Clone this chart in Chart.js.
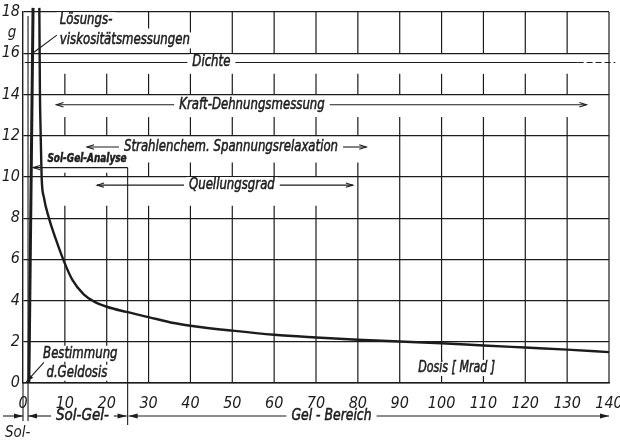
<!DOCTYPE html>
<html>
<head>
<meta charset="utf-8">
<script src="https://cdn.jsdelivr.net/npm/chart.js@4.4.1/dist/chart.umd.min.js"></script>
<style>
  html, body { margin: 0; background: #fff; }
  #wrap { width: 620px; height: 440px; }
</style>
</head>
<body>
<div id="wrap"><canvas id="doseChart"></canvas></div>
<script>
// axis ticks
const doseTicks = [0, 10, 20, 30, 40, 50, 60, 70, 80, 90, 100, 110, 120, 130, 140];
const gTicks = [0, 2, 4, 6, 8, 10, 12, 14, 16, 18];

// main curve
const curveDose  = [3.9, 4.05, 4.2, 4.45, 5.0, 6.2, 7.8, 9.6, 11.8, 14.5, 17, 20, 24.7, 30, 36, 40, 50, 60, 70, 80, 90, 100, 110, 120, 130, 140];
const curveValue = [18.2, 14.0, 12.3, 10.0, 9.0, 8.0, 7.0, 6.0, 5.0, 4.3, 3.95, 3.7, 3.45, 3.2, 2.91, 2.78, 2.54, 2.34, 2.21, 2.1, 2.01, 1.93, 1.82, 1.72, 1.62, 1.5];

// steep line at the gel dose
const riseDose  = [1.4, 2.4];
const riseValue = [0, 18.2];

// measuring ranges (arrows)
const rangeNames  = ["Kraft-Dehnungsmessung", "Strahlenchem. Spannungsrelaxation", "Quellungsgrad"];
const rangeLevel  = [13.5, 11.45, 9.6];
const rangeFrom   = [8, 15.3, 17.7];
const rangeTo     = [134.6, 82, 78.8];
const rangeTextAt = [54.7, 49.7, 49.9];

// gaps in the vertical grid lines (where the range labels sit)
const gapFrom = [15.0, 12.9, 10.7, 8.6, 10.2, 16.0, 16.0];
const gapTo   = [16.0, 14.0, 12.0, 10.0, 12.0, 18.0, 17.2];
const gapUpTo = [130, 130, 80, 70, 20, 20, 30];

const INK = '#1c1c1c';
const FAMILY = "'Liberation Sans Narrow', 'DejaVu Sans Condensed', sans-serif";
const FONT = "italic 15px " + FAMILY;
const SQUEEZE = 0.87;

function seg(ctx, x1, y1, x2, y2) {
  ctx.beginPath(); ctx.moveTo(x1, y1); ctx.lineTo(x2, y2); ctx.stroke();
}

function head(ctx, x, y, dir, filled) {
  // dir: +1 points right, -1 points left
  const len = filled ? 9 : 7, w = filled ? 2.6 : 2.2;
  ctx.beginPath();
  ctx.moveTo(x - dir * len, y - w);
  ctx.lineTo(x, y);
  ctx.lineTo(x - dir * len, y + w);
  if (filled) { ctx.closePath(); ctx.fill(); } else { ctx.stroke(); }
}

// text squeezed sideways, on a white patch that hides the grid behind it
function label(ctx, text, px, py, align, font, sx) {
  sx = sx || SQUEEZE;
  ctx.font = font || FONT;
  const w = ctx.measureText(text).width * sx;
  let left = px;
  if (align === 'center') left = px - w / 2;
  if (align === 'right') left = px - w;
  ctx.fillStyle = '#fff';
  ctx.fillRect(left - 3, py - 8, w + 6, 16);
  ctx.fillStyle = INK;
  ctx.textAlign = 'left';
  ctx.textBaseline = 'middle';
  ctx.save();
  ctx.translate(left, py);
  ctx.scale(sx, 1);
  ctx.fillText(text, 0, 0);
  ctx.lineWidth = 0.5;
  ctx.strokeText(text, 0, 0);
  ctx.restore();
  return [left, left + w];
}

function rangeArrow(ctx, text, x1, x2, tx, py, filled, sx) {
  const [l, r] = label(ctx, text, tx, py, 'center', FONT, sx);
  seg(ctx, x1, py, l - 5, py);
  seg(ctx, r + 5, py, x2, py);
  head(ctx, x1, py, -1, filled);
  head(ctx, x2, py, 1, filled);
}

const annotate = {
  id: 'annotate',
  beforeDatasetsDraw(chart) {
    const { ctx, chartArea: a, scales: { x, y } } = chart;
    const X = v => x.getPixelForValue(v), Y = v => y.getPixelForValue(v);
    ctx.save();
    ctx.strokeStyle = INK;
    ctx.fillStyle = INK;

    // vertical grid with gaps
    ctx.lineWidth = 1.2;
    doseTicks.forEach(d => {
      if (d === 0) return;
      const px = X(d);
      const gaps = [];
      gapFrom.forEach((g, i) => { if (d <= gapUpTo[i]) gaps.push([g, gapTo[i]]); });
      gaps.sort((p, q) => p[0] - q[0]);
      let cur = 0;
      gaps.forEach(([g0, g1]) => {
        if (g0 > cur) seg(ctx, px, Y(cur), px, Y(g0));
        cur = Math.max(cur, g1);
      });
      if (cur < 18) seg(ctx, px, Y(cur), px, Y(18));
    });

    ctx.lineWidth = 1.1;

    // unit
    ctx.font = FONT; ctx.textAlign = 'center'; ctx.textBaseline = 'middle';
    ctx.fillText('g', a.left - 11, Y(17.0));

    // boundary lines, running on below the axis
    seg(ctx, X(0), a.bottom, X(0), a.bottom + 38);
    seg(ctx, X(1.2), Y(17.8), X(1.2), a.bottom + 38);

    // Dichte
    const dy = Y(15.55);
    const [dl, dr] = label(ctx, 'Dichte', X(45), dy, 'center');
    seg(ctx, X(0.4), dy, dl - 5, dy);
    seg(ctx, dr + 5, dy, X(132.5), dy);
    ctx.setLineDash([6, 3]);
    seg(ctx, X(132.5), dy, X(141.5), dy);
    ctx.setLineDash([]);

    // measuring ranges
    rangeNames.forEach((n, i) => {
      rangeArrow(ctx, n, X(rangeFrom[i]), X(rangeTo[i]), X(rangeTextAt[i]), Y(rangeLevel[i]), false);
    });

    // Sol-Gel-Analyse
    label(ctx, 'Sol-Gel-Analyse', X(15.3), Y(10.85), 'center', "italic bold 12px " + FAMILY, 0.83);
    const sy = Y(10.45);
    ctx.lineWidth = 1.1;
    seg(ctx, X(2.4), sy, X(25), sy);
    head(ctx, X(2.4), sy, -1, false);
    seg(ctx, X(25), sy, X(25), a.bottom + 42);

    // Lösungsviskositätsmessungen
    label(ctx, 'Lösungs-', X(8.8), Y(17.6), 'left');
    label(ctx, 'viskositätsmessungen', X(8.8), Y(16.62), 'left');
    seg(ctx, X(8.1), Y(16.88), X(2.6), Y(16.05));

    // Bestimmung d. Geldosis
    label(ctx, 'Bestimmung', X(4.8), Y(1.42), 'left');
    label(ctx, 'd.Geldosis', X(5.6), Y(0.5), 'left');
    const bx1 = X(5.0), by1 = Y(1.0), bx2 = X(0.8), by2 = Y(0.05);
    seg(ctx, bx1, by1, bx2, by2);
    const ang = Math.atan2(by2 - by1, bx2 - bx1);
    ctx.beginPath();
    ctx.moveTo(bx2, by2);
    ctx.lineTo(bx2 - 8 * Math.cos(ang - 0.3), by2 - 8 * Math.sin(ang - 0.3));
    ctx.lineTo(bx2 - 8 * Math.cos(ang + 0.3), by2 - 8 * Math.sin(ang + 0.3));
    ctx.closePath(); ctx.fill();

    // axis title
    label(ctx, 'Dosis [ Mrad ]', X(103.6), Y(0.73), 'center', FONT, 0.82);

    // ranges below the axis
    const by = a.bottom + 33;
    ctx.lineWidth = 1.1;
    seg(ctx, 3, by, X(0), by);
    head(ctx, X(0), by, 1, true);
    rangeArrow(ctx, 'Sol-Gel-', X(1.2), X(25) - 1, X(14.2), by, true, 1);
    rangeArrow(ctx, 'Gel - Bereich', X(25) + 1, X(140), X(73.7), by, true, 0.92);
    ctx.fillStyle = INK;
    ctx.font = FONT; ctx.textAlign = 'left'; ctx.textBaseline = 'middle';
    ctx.fillText('Sol-', 5, a.bottom + 50);

    ctx.restore();
  }
};

new Chart(document.getElementById('doseChart'), {
  type: 'scatter',
  data: {
    datasets: [
      {
        data: curveDose.map((d, i) => ({ x: d, y: curveValue[i] })),
        showLine: true,
        borderColor: INK,
        borderWidth: 2.4,
        pointRadius: 0,
        cubicInterpolationMode: 'monotone',
        clip: false
      },
      {
        data: riseDose.map((d, i) => ({ x: d, y: riseValue[i] })),
        showLine: true,
        borderColor: INK,
        borderWidth: 3,
        pointRadius: 0,
        clip: false
      }
    ]
  },
  options: {
    responsive: true,
    maintainAspectRatio: false,
    animation: false,
    layout: { padding: { left: 0, right: 11, top: 12, bottom: 0 } },
    plugins: { legend: { display: false }, tooltip: { enabled: false } },
    scales: {
      x: {
        type: 'linear',
        min: 0, max: 140,
        afterBuildTicks: s => { s.ticks = doseTicks.map(v => ({ value: v })); },
        afterFit: s => { s.height = 57; s.paddingLeft = 0; s.paddingRight = 0; },
        grid: { display: false },
        border: { display: true, color: INK, width: 1.4 },
        ticks: {
          color: INK, padding: 3, maxRotation: 0,
          font: { family: FAMILY, size: 16, style: 'italic' }
        }
      },
      y: {
        type: 'linear',
        min: 0, max: 18,
        afterBuildTicks: s => { s.ticks = gTicks.map(v => ({ value: v })); },
        afterFit: s => { s.width = 23; s.paddingTop = 0; s.paddingBottom = 0; },
        grid: { color: INK, lineWidth: 1.2, drawTicks: false },
        border: { display: true, color: INK, width: 1.4 },
        ticks: {
          color: INK, padding: 3,
          font: { family: FAMILY, size: 16, style: 'italic' }
        }
      }
    }
  },
  plugins: [annotate]
});
</script>
</body>
</html>
